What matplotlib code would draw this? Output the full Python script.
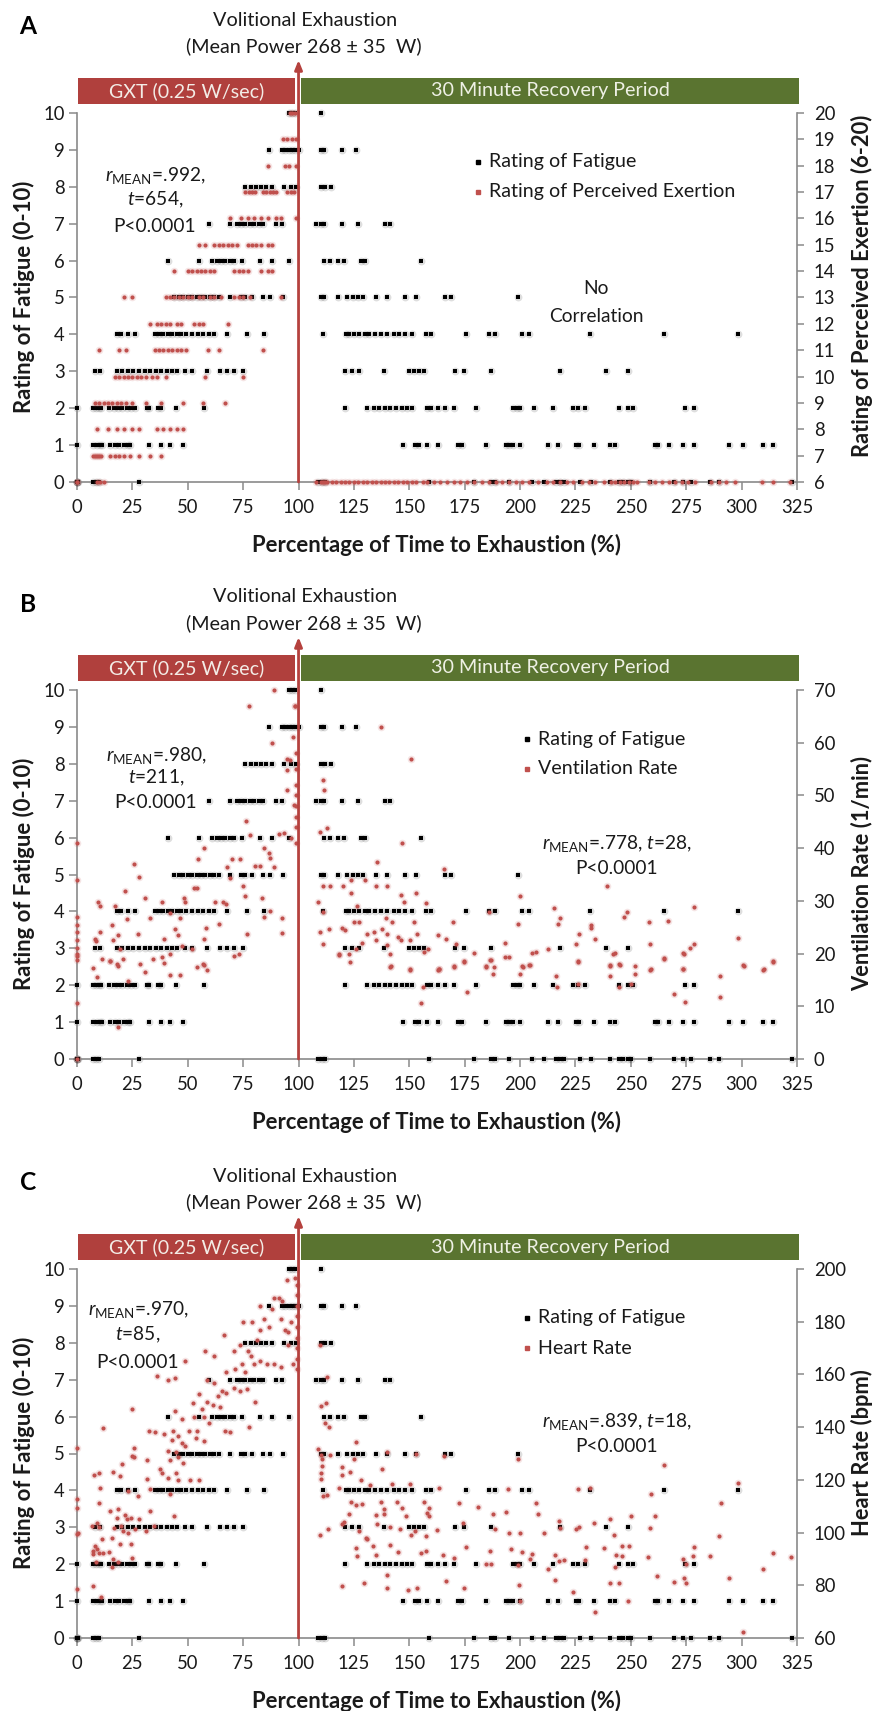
import matplotlib
matplotlib.use("Agg")
import matplotlib.pyplot as plt
from matplotlib.patches import Rectangle
from matplotlib.lines import Line2D

plt.rcParams['font.family'] = ['Lato', 'DejaVu Sans']
plt.rcParams['mathtext.fontset'] = 'custom'
plt.rcParams['mathtext.rm'] = 'Lato'
plt.rcParams['mathtext.it'] = 'Lato:italic'
plt.rcParams['mathtext.bf'] = 'Lato:bold'

# ---------------- data ----------------
x_ticks = list(range(0, 326, 25))
fatigue_ticks = list(range(0, 11))

# Rating of fatigue (0-10): x = % time to exhaustion for each rating level
fat_0 = [0, 0, 0, 0.5, 7, 8.5, 10, 28, 109, 110.5, 112, 159, 179, 187, 188.5, 195, 205.5, 211, 216, 218,
         219.7, 227, 232, 240.7, 244.5, 246.4, 248.7, 250.2, 258.5, 269.4, 273.6, 277, 285.7, 290, 322.6]
fat_1 = [0, 7.4, 9, 10.5, 11.2, 14.9, 17, 19, 21, 23, 24, 32.7, 37.9, 42.1, 47.8, 147, 152.6, 154.5, 158,
         162.8, 172, 174, 184.6, 193.6, 195.1, 196.6, 199.9, 212.5, 217, 225.3, 226.8, 233.3, 240.7, 242.7,
         261.1, 262.3, 267.1, 273.6, 278.6, 294.4, 300.4, 309.7, 314.3]
fat_2 = [0, 7, 8.5, 10, 11, 14.6, 16.5, 18.5, 20.5, 22.5, 24.5, 26, 31.8, 32.7, 36.5, 38, 44.8, 57.2, 121,
         131, 134, 136.5, 139, 141.5, 144, 146.5, 149, 151, 158, 160, 163, 166, 170, 180, 197, 198.5, 200,
         206.5, 215, 224, 226, 229.5, 244.5, 248.5, 251, 274.5, 278.5]
fat_3 = [8, 10.4, 18, 20.5, 23, 25.5, 28, 30.5, 33, 35.5, 38, 40.5, 43, 45, 48.9, 51.9, 58.7, 64.4, 67.7,
         70.7, 74.9, 121, 124, 127.5, 138.5, 150, 152, 154.5, 156.6, 170.8, 174.6, 186.7, 218.1, 239, 248.7]
fat_4 = [18, 20, 23, 26, 35, 37, 39, 41, 43, 45, 47, 49, 52, 54.5, 57, 59.5, 62, 67.7, 76.7, 84.3, 111,
         121.5, 123, 125, 127.5, 130, 132, 134.5, 137, 140, 143, 145.5, 148, 151, 157.5, 160, 175.5, 186,
         188.5, 201, 204, 231.7, 264.9, 298.5]
fat_5 = [44, 46, 48, 50, 52, 54, 56, 58, 60, 62, 64, 69, 74, 76, 79, 84, 87, 93, 110, 111.5, 118, 122,
         124.5, 127, 129, 135, 140, 148, 153, 166, 169, 199]
fat_6 = [41.3, 54.9, 61, 63, 65, 67, 69, 71, 74.5, 82.8, 88, 95.6, 111.5, 114, 118, 120.5, 128, 130, 155.5]
fat_7 = [59.4, 69.2, 72, 74, 76, 78, 80, 82, 84, 90, 92.6, 108, 110, 111.5, 119.5, 127, 139, 141.5]
fat_8 = [76, 78.5, 81, 83, 85.5, 88, 93.4, 96.4, 99, 110, 112, 114.5]
fat_9 = [86.6, 92.6, 94, 95.5, 97, 98.5, 100, 110, 111.5, 119.7, 126]
fat_10 = [95.6, 97, 98.6, 110]

# Rating of perceived exertion (6-20): x for each RPE level
rpe_6 = [0, 0, 9, 10.5, 12, 108, 110, 111, 112, 113, 115, 117, 119, 121, 123, 125, 127, 129, 131, 133, 135,
         137, 139, 141, 143, 145, 147, 149, 151, 153, 156, 158, 161, 164, 167, 170, 173, 176, 179, 183, 186,
         189, 192, 195, 198, 201, 204, 208, 212, 215, 218, 221, 224, 228, 231, 234, 238, 241, 243, 245, 247,
         249, 251, 253, 258, 261, 264, 267, 270, 273, 276, 279, 286, 290, 293, 297, 309, 314, 322]
rpe_7 = [7, 8, 9, 10, 11, 15, 17, 19, 21, 24, 28, 33, 38]
rpe_8 = [9, 14, 18, 21, 25, 28, 36, 39, 42, 45, 48]
rpe_9 = [8, 10, 12, 14, 16, 18, 20, 22, 25, 31, 38, 48, 57, 67]
rpe_10 = [17, 19, 21, 23, 25, 27, 29, 31, 34, 36, 40, 58, 75]
rpe_11 = [10, 19, 22, 35, 37, 39, 41, 43, 45, 47, 49, 59, 64, 84]
rpe_12 = [33, 36, 38, 40, 42, 45, 47, 53, 55, 57, 68]
rpe_13 = [21, 25, 40, 42, 44, 46, 48, 50, 52, 55, 57, 60, 62, 65, 71, 73, 75, 78, 92]
rpe_14 = [44, 50, 52, 54, 56, 58, 60, 62, 71, 73, 75, 77, 83, 86, 88]
rpe_15 = [55, 58, 62, 64, 66, 68, 70, 72, 77, 79, 81, 83, 86, 88]
rpe_16 = [69, 74, 77, 80, 83, 86, 90, 92, 99]
rpe_17 = [76, 77.5, 79, 80.5, 84, 85.5, 87, 88.5, 90, 95, 96.5, 98]
rpe_18 = [86, 94, 95.5, 99]
rpe_19 = [93, 95, 97, 99]
rpe_20 = [96, 97, 98.5]

# Ventilation rate (1/min)
ve_x = [88.8, 98.6, 77.5, 87.8, 97.7, 94.7, 96, 94.9, 94.7, 99, 99, 99, 99, 99, 99, 99, 99, 97.9, 76.3, 0,
        57.2, 54.6, 70, 73.7, 78, 84.3, 86.6, 91.1, 93.4, 96.4, 87.3, 82.8, 88.8, 67.7, 80.5, 25.8, 28.1, 0,
        52.6, 54, 69.2, 74.9, 75.9, 83.3, 48.1, 21.7, 30.8, 62.4, 65.9, 67.4, 9.7, 10.4, 17.2, 38.3, 48.9,
        0, 0, 0, 0, 0, 0, 33, 42, 22.5, 46.6, 64.3, 87.3, 84.3, 92.6, 16, 44.4, 45.4, 58.2, 76.6, 92.6,
        10.4, 8.1, 8.6, 16.1, 18.7, 27.5, 39.1, 57.2, 19.5, 11.2, 15, 20.7, 28.5, 34.5, 38.3, 42.1, 54,
        57.2, 70.7, 73.3, 7.4, 18.7, 30.8, 39.1, 51.9, 47.4, 8.9, 14.9, 17.9, 23.2, 41.8, 46.6, 56.9, 58.7,
        0, 18.3, 0, 0, 0,
        150.7, 111.2, 111.5, 109.6, 113, 146.9, 135.3, 165.7, 111.2, 114.2, 120, 123.6, 129.9, 134.8,
        140.1, 239.4, 123.6, 146.1, 152.9, 199.8, 108.6, 147.6, 157.6, 111.2, 126.5, 142.2, 139.4, 125.1,
        127.5, 152, 169.6, 186, 215.2, 218.2, 217, 198.9, 248.4, 247, 258.2, 266.8, 278.6, 231.8, 231.8,
        298.5, 109.6, 113.6, 119.6, 121, 130.9, 133.9, 137.5, 140.1, 144.9, 146.1, 153.3, 163.1, 166.5,
        111.2, 128.5, 134.8, 140.1, 150.3, 171.3, 193.3, 226.8, 233.6, 225.3, 258.5, 278.6, 276.7, 118.1,
        122.9, 126.1, 141.5, 156.6, 158.4, 186.7, 194.9, 207.4, 212.7, 242.1, 274.1, 123.1, 141.5, 150.3,
        163.2, 170.1, 174.6, 184.4, 188.4, 201.2, 204.6, 226.3, 240.4, 244.9, 251.7, 258.9, 264.9, 273.5,
        301.1, 310, 314.3, 118.3, 141.6, 150.4, 156, 155.2, 163.2, 179, 174.8, 170.3, 163, 184.6, 186.6,
        187.8, 175.9, 193.4, 200, 200.9, 204.2, 205.4, 216, 216.7, 226.1, 226.1, 240.7, 240.7, 242.7,
        244.5, 244.5, 249.9, 251.7, 258.5, 264.8, 269.4, 273.6, 273.6, 274.6, 290.2, 290.2, 300.4, 309.7,
        314.3, 137, 98.3]
ve_val = [70, 67, 67, 60, 61, 57, 56.8, 54.9, 51, 58, 55, 52, 50, 48, 46, 44, 41, 48.2, 45.1, 41,
          40, 38, 38, 38, 42.4, 40, 39, 42.6, 42.9, 42, 38.2, 36.6, 36.4, 36.4, 36.6, 36.9, 34.6, 34,
          32.5, 32.5, 34.3, 32.8, 31, 30.6, 30.6, 31.8, 30.6, 29.8, 29.8, 29.4, 29.8, 29.1, 29.1, 29.7, 29.8,
          27, 25.5, 24, 22.5, 21, 19.5, 26.8, 27.7, 26.5, 26.8, 25.6, 28, 27, 26.8, 25.4, 24.7, 23.5, 24.9,
          23.7, 23.9, 24.1, 22.8, 22.4, 22.5, 23.5, 23.7, 22.7, 22.7, 20.8, 19, 18.6, 19, 18, 18.9, 19.4,
          20, 17.5, 17.9, 19.5, 20, 17.2, 17.7, 16.5, 18.3, 20.8, 21.4, 15.5, 18.5, 18.1, 14.8, 15.9, 15.9,
          18, 16.9, 10.7, 6, 0, 18.8, 20,
          56.9, 53, 51, 43, 43.8, 40.9, 37.3, 36, 32.9, 32.8, 32.9, 34, 34, 32.9, 32.9, 32.9, 31.5, 31.2,
          31.4, 30.9, 29.8, 29.8, 29.6, 27.8, 29.1, 26, 26.8, 26, 26, 25.9, 25.9, 27.8, 28.7, 26.8, 25.6,
          25.6, 27.8, 27, 25.9, 26.2, 28.9, 25.4, 24.8, 22.9, 24, 24.7, 24.9, 24.5, 23.7, 24, 24.7, 23.7,
          23.2, 22.5, 23.8, 23.6, 22.8, 21.8, 22, 22.5, 21.7, 22.5, 21.8, 22, 23.7, 22.8, 21.8, 21.8, 21.8,
          21, 20, 20, 20.8, 20, 20.3, 20.8, 18.7, 19.4, 20.3, 20.8, 19.9, 20, 18.4, 17.5, 17.1, 17, 17.5,
          18.4, 17.5, 17.5, 17.5, 17.9, 18.4, 17.6, 17.9, 17.6, 17, 18.9, 17, 17.6, 17, 18.4, 19.7, 17.6,
          16.9, 13.7, 10.6, 17, 20.2, 18.6, 17.7, 16.9, 17.7, 18.8, 16.1, 12.8, 19.4, 16.1, 17.7, 17.8,
          20.2, 15.8, 13.6, 18.5, 14.2, 17.8, 15.8, 20.1, 18, 13.7, 14.2, 16.1, 16.9, 19.2, 12.4, 17, 20.1,
          10.9, 15.8, 11.8, 17.8, 16.9, 18.5, 63, 67]

# Heart rate (bpm)
hr_x = [98.6, 94.6, 99.5, 99.5, 99.5, 99.5, 99.5, 99.5, 99.5, 99.5, 99.5, 88.8, 91.1, 92.5, 82.8, 87.8,
        91.9, 96.4, 84.3, 75, 79, 82.5, 86.6, 94, 95.3, 66.2, 81.3, 73.8, 77.2, 95.3, 70.7, 78.4, 57.9,
        61.7, 48.9, 74.5, 80.1, 82.8, 85.8, 88.8, 91.9, 97.6, 71.5, 67.4, 75.9, 36, 41.3, 44.3, 58.7, 61.7,
        65.5, 67.4, 70.7, 73.8, 76.6, 63.5, 54.9, 52.3, 58.7, 61.4, 64.4, 80.5, 56.4, 24.7, 44.3, 47.4,
        52.6, 57.5, 59.4, 77.8, 11.6, 32.3, 35.3, 39.1, 43.3, 45.8, 50.4, 54.1, 53.8, 57.5, 67, 69.2, 43.1,
        47.4, 48.9, 25.8, 41.3, 44.7, 45.8, 0, 24.7, 25.8, 31.5, 42, 47.8, 20.2, 37.6, 38.3, 16.4, 19.2,
        7.8, 10.1, 31.5, 40.9, 44.7, 45.5, 51.1, 54.9, 10.4, 23.2, 27.7, 33, 42.1, 9.9, 14.9, 18.7, 21.7,
        18, 22.5, 24.3, 27.8, 33, 44, 6.9, 8.9, 10.1, 0, 16.9, 19.9, 20.9, 22.9, 26.2, 31.2, 34.8, 0, 0.5,
        11.2, 15.7, 24.3, 19.5, 8.1, 8.9, 7.4, 7.4, 10.1, 11.6, 14.6, 16.4, 8.6, 18.3, 24.7, 15.7, 7.4, 0,
        10.7, 0,
        109.6, 112.7, 110, 112.2, 111.9, 113.7, 108.7, 110, 110.5, 110.5, 110, 110.2, 111.2, 113, 114.2,
        125.8, 125, 119.8, 123.2, 119.4, 128.1, 132.1, 118.3, 137.8, 139.8, 152.9, 165.7, 142.1, 150.3,
        163.6, 194.4, 198.9, 226.3, 231.7, 264.9, 298.5, 259, 123.5, 125.8, 128.8, 137.4, 138.6, 144.3,
        146.9, 156.6, 158.9, 158.2, 172.6, 180.9, 207.3, 290.9, 122.9, 135, 138.5, 148.4, 158.9, 187.8,
        193.6, 207.9, 217.7, 240.7, 249.9, 261, 109.9, 113.2, 119.8, 120.5, 127.2, 130.3, 135.2, 141.5,
        145.8, 150.9, 152.5, 157.4, 162.3, 174.2, 188.6, 195.1, 200, 210.8, 218.1, 225.2, 226.8, 233.2,
        242.3, 258.6, 289.9, 125.8, 130.8, 133.7, 141.5, 145, 155.5, 157.4, 165.1, 170.1, 175.6, 186.2,
        196.1, 200.8, 205.2, 204.6, 215.6, 217.4, 219.8, 229.8, 238.1, 243.1, 245.8, 246, 249, 257.9,
        273.6, 278.6, 278.2, 285.6, 314.3, 322.2, 134.8, 126.5, 184.8, 187, 199.1, 229.4, 242.7, 275,
        212.5, 119.8, 129.6, 139.9, 139.9, 149.5, 153.4, 166.5, 174.9, 199.4, 215.8, 224.1, 240.4, 244.5,
        262, 269.4, 273.9, 274.8, 294.4, 309.8, 200.1, 248.7, 233.6, 300.8]
hr_val = [196.5, 196, 194, 190, 186, 182, 178, 174, 170, 166, 162, 189, 189, 188, 186, 185,
          181, 180, 181, 180, 180, 177, 178, 177, 176, 175, 173, 171, 169, 171, 169, 167, 169,
          167, 165, 164, 164, 165, 164, 164, 163, 164, 162, 161, 161, 159.5, 158, 158.5, 158, 156.7,
          153.6, 153, 155, 153.6, 154.5, 152, 152.6, 149, 149.5, 148.5, 147.5, 149.7, 146.7, 146.9, 146, 143,
          144, 144, 141.6, 140, 139.6, 138.5, 138, 137.5, 138.5, 136.5, 138.6, 138.5, 136, 134.6, 138.5, 138, 135,
          134, 132.8, 132, 131, 130.5, 128.5, 132, 129, 128.7, 127.5, 127.5, 126.5, 126, 124, 122.7, 123, 121.4,
          122, 122.6, 120.4, 120.7, 122.5, 120, 120, 120, 117, 115.8, 113.9, 116.5, 114.5, 111.3, 108, 109, 106.7,
          105.7, 105.2, 105.7, 105.2, 108, 106.3, 102.5, 103.7, 102.3, 109.4, 101.9, 102.5, 100.6, 100, 101.2, 100.6, 102.5, 99.4, 100,
          97.5, 98, 95.6, 95.6, 95, 93.7, 93, 92, 92.2, 92.2, 92.7, 90, 89, 89, 90.3, 87, 79.8, 78.5,
          75.4, 112.6,
          171, 159, 148, 149, 141.6, 140, 131.8, 129.6, 127.8, 125.2, 122.7, 120.2, 114, 114.3, 129.3,
          134.3, 128, 124.8, 123, 122, 119.9, 118, 117, 124, 130.7, 129.9, 129, 118.3, 118.5,
          117, 116.7, 128, 116.7, 117, 125.6, 118.9, 114.7, 111.6, 110.6, 111, 111.6, 109, 111.7,
          109.5, 111.6, 109.2, 107.5, 111.2, 109.8, 111.4, 111.3, 106.9, 106.6, 107.2, 106.3, 106.3, 106.9,
          107.7, 106.9, 104.4, 105.3, 106.3, 106.3, 99, 101.2, 103.1, 104, 100.6, 98.1, 103.1, 102.3,
          101.3, 98.9, 100.7, 98.6, 101, 103.8, 101.3, 100, 100, 99.8, 101.8, 101.2, 102.3, 103.5,
          98.9, 101.6, 98.6, 94.3, 97.5, 95, 95.4, 92.7, 92.4, 93, 91.4, 90.2, 94.5, 92.9,
          93.7, 92.5, 91.9, 89.8, 91.6, 89.1, 89.5, 94.5, 94.1, 91.6, 91, 95, 95, 90.6,
          89.8, 94.5, 91, 91.2, 92.4, 90.8, 91.4, 91.2, 88, 88, 87.6, 89.6, 87.1, 88,
          86, 79.6, 81, 84, 79, 78.1, 79, 81.7, 79, 80.2, 82, 77.4, 81, 81,
          83.4, 81.3, 82.8, 81, 82.6, 86, 74.1, 74.1, 70, 62.1]

ve_ticks = list(range(0, 71, 10))
hr_ticks = list(range(60, 201, 20))
rpe_ticks = list(range(6, 21))

# --------------- build series ----------------
fat_levels = [fat_0, fat_1, fat_2, fat_3, fat_4, fat_5, fat_6, fat_7, fat_8, fat_9, fat_10]
fat_x, fat_y = [], []
for lvl, xs in enumerate(fat_levels):
    fat_x += xs
    fat_y += [lvl] * len(xs)

rpe_levels = [rpe_6, rpe_7, rpe_8, rpe_9, rpe_10, rpe_11, rpe_12, rpe_13, rpe_14, rpe_15, rpe_16,
              rpe_17, rpe_18, rpe_19, rpe_20]
rpe_x, rpe_y = [], []
for i, xs in enumerate(rpe_levels):
    rpe_x += xs
    rpe_y += [6 + i] * len(xs)

# --------------- figure ----------------
W, H = 887, 1711
fig = plt.figure(figsize=(W / 100, H / 100), dpi=100)
renderer = fig.canvas.get_renderer()


def FX(px):
    return px / W


def FY(py):
    return 1 - py / H


def fit(s, target, weight='normal', base=13.0):
    """font size giving a rendered width of `target` pixels"""
    t = fig.text(0, 0, s, fontsize=base, weight=weight)
    w = t.get_window_extent(renderer).width
    t.remove()
    return base * target / w


FS_TICK = fit('100', 32)
FS_XLAB = fit('Percentage of Time to Exhaustion (%)', 368, 'bold')
FS_YLAB = fit('Rating of Fatigue (0-10)', 232, 'bold')
FS_RLAB = fit('Rating of Perceived Exertion (6-20)', 342, 'bold')
FS_VOL = fit('Volitional Exhaustion', 184)
FS_MEAN = fit('(Mean Power 268 \u00b1 35  W)', 235)
FS_GXT = fit('GXT (0.25 W/sec)', 155)
FS_REC = fit('30 Minute Recovery Period', 238)
FS_LEG = fit('Rating of Fatigue', 147)
FS_ANN = fit('P<0.0001', 82)
FS_LET = fit('A', 17, 'bold')

RED_BAR = '#b0403d'
GREEN_BAR = '#5a7430'
DOT_RED = '#c0504d'
AX_GRAY = '#8a8a8a'
TXT = '#1a1a1a'

panels = [
    dict(letter='A', dy=0, sec_x=rpe_x, sec_y=rpe_y, sec_lim=(6, 20), sec_ticks=rpe_ticks,
         sec_label='Rating of Perceived Exertion (6-20)', sec_name='Rating of Perceived Exertion',
         left_ann=[r'$\mathit{r}_{\mathrm{MEAN}}$=.992,', r'$\mathit{t}$=654,', 'P<0.0001'],
         left_pos=(155, [175, 200, 226]),
         right_ann=['No', 'Correlation'], right_pos=(596, [289, 316]), leg_x=478, rlab_y=286),
    dict(letter='B', dy=577, sec_x=ve_x, sec_y=ve_val, sec_lim=(0, 70), sec_ticks=ve_ticks,
         sec_label='Ventilation Rate (1/min)', sec_name='Ventilation Rate',
         left_ann=[r'$\mathit{r}_{\mathrm{MEAN}}$=.980,', r'$\mathit{t}$=211,', 'P<0.0001'],
         left_pos=(156, [178, 201, 225]),
         right_ann=[r'$\mathit{r}_{\mathrm{MEAN}}$=.778, $\mathit{t}$=28,', 'P<0.0001'],
         right_pos=(617, [266, 291]), leg_x=527, rlab_y=297),
    dict(letter='C', dy=1156, sec_x=hr_x, sec_y=hr_val, sec_lim=(60, 200), sec_ticks=hr_ticks,
         sec_label='Heart Rate (bpm)', sec_name='Heart Rate',
         left_ann=[r'$\mathit{r}_{\mathrm{MEAN}}$=.970,', r'$\mathit{t}$=85,', 'P<0.0001'],
         left_pos=(138, [154, 179, 206]),
         right_ann=[r'$\mathit{r}_{\mathrm{MEAN}}$=.839, $\mathit{t}$=18,', 'P<0.0001'],
         right_pos=(617, [265, 291]), leg_x=527, rlab_y=297),
]

TOP, BOT, LEFT, RIGHT = 113, 482, 77, 797
AXH = BOT - TOP

for p in panels:
    dy = p['dy']
    ax = fig.add_axes([FX(LEFT), FY(BOT + dy), FX(RIGHT) - FX(LEFT), AXH / H])
    ax.set_xlim(0, 325)
    ax.set_ylim(0, 10)
    ax.set_xticks(x_ticks)
    ax.set_yticks(fatigue_ticks)
    for s in ['top', 'right']:
        ax.spines[s].set_visible(False)
    for s in ['left', 'bottom']:
        ax.spines[s].set_color(AX_GRAY)
        ax.spines[s].set_linewidth(1.2)
    ax.tick_params(axis='both', colors=AX_GRAY, labelcolor=TXT, labelsize=FS_TICK, length=6, width=1.1)
    ax.tick_params(axis='x', pad=6)
    ax.tick_params(axis='y', pad=3)
    ax.patch.set_visible(False)

    # fatigue points (halo + core)
    ax.scatter(fat_x, fat_y, s=32, color='black', alpha=0.13, linewidths=0, clip_on=False, zorder=2)
    ax.scatter(fat_x, fat_y, s=8, color='black', marker='s', linewidths=0, clip_on=False, zorder=3)

    ax2 = ax.twinx()
    ax2.set_ylim(*p['sec_lim'])
    ax2.set_yticks(p['sec_ticks'])
    for s in ['top', 'left', 'bottom']:
        ax2.spines[s].set_visible(False)
    ax2.spines['right'].set_color(AX_GRAY)
    ax2.spines['right'].set_linewidth(1.2)
    ax2.tick_params(axis='y', colors=AX_GRAY, labelcolor=TXT, labelsize=FS_TICK, length=5, width=1.1,
                    pad=7)

    ax2.scatter(p['sec_x'], p['sec_y'], s=30, color=DOT_RED, alpha=0.15, linewidths=0, clip_on=False,
                zorder=2)
    ax2.scatter(p['sec_x'], p['sec_y'], s=9, color=DOT_RED, linewidths=0, clip_on=False, zorder=3)

    # header bars
    tr = ax2.get_xaxis_transform()
    y0 = 1 + 9 / AXH
    hh = 26 / AXH
    ax2.add_patch(Rectangle((0.45, y0), 98.4 - 0.45, hh, transform=tr, facecolor=RED_BAR,
                            edgecolor='none', clip_on=False, zorder=5))
    ax2.add_patch(Rectangle((101.1, y0), 326 - 101.1, hh, transform=tr, facecolor=GREEN_BAR,
                            edgecolor='none', clip_on=False, zorder=5))
    ax2.text(49.4, y0 + hh / 2, 'GXT (0.25 W/sec)', transform=tr, ha='center', va='center',
             color='#f3ece6', fontsize=FS_GXT, zorder=6, clip_on=False)
    ax2.text(213.5, y0 + hh / 2, '30 Minute Recovery Period', transform=tr, ha='center',
             va='center', color='#eef0e4', fontsize=FS_REC, zorder=6, clip_on=False)

    # arrow at volitional exhaustion
    ax2.annotate('', xy=(100, 1 + 53 / AXH), xycoords=tr, xytext=(100, 0), textcoords=tr,
                 arrowprops=dict(arrowstyle='-|>,head_length=0.55,head_width=0.22', color='#b5413e',
                                 lw=2, shrinkA=0, shrinkB=0),
                 annotation_clip=False, zorder=7)

    # texts
    fig.text(FX(28), FY(27 + dy), p['letter'], ha='center', va='center', fontsize=FS_LET, weight='bold')
    fig.text(FX(305), FY(20 + dy), 'Volitional Exhaustion', ha='center', va='center', fontsize=FS_VOL,
             color=TXT)
    fig.text(FX(304), FY(46 + dy), '(Mean Power 268 \u00b1 35  W)', ha='center', va='center',
             fontsize=FS_MEAN, color=TXT)
    lx, lys = p['left_pos']
    for s, yy in zip(p['left_ann'], lys):
        fig.text(FX(lx), FY(yy + dy), s, ha='center', va='center', fontsize=FS_ANN, color=TXT)
    rx, rys = p['right_pos']
    for s, yy in zip(p['right_ann'], rys):
        fig.text(FX(rx), FY(yy + dy), s, ha='center', va='center', fontsize=FS_ANN, color=TXT)

    # legend
    lgx = p['leg_x']
    for k, (name, col) in enumerate([('Rating of Fatigue', 'black'), (p['sec_name'], DOT_RED)]):
        yy = 162 + 30 * k + dy
        fig.add_artist(Line2D([FX(lgx)], [FY(yy)], marker='s', ms=2.3, color=col, lw=0,
                              transform=fig.transFigure))
        fig.text(FX(lgx + 11), FY(yy), name, ha='left', va='center', fontsize=FS_LEG, color=TXT)

    # axis labels
    fig.text(FX(24), FY(297 + dy), 'Rating of Fatigue (0-10)', rotation=90, ha='center', va='center',
             fontsize=FS_YLAB, weight='bold', color=TXT)
    fig.text(FX(862), FY(p['rlab_y'] + dy), p['sec_label'], rotation=90, ha='center', va='center',
             fontsize=FS_RLAB, weight='bold', color=TXT)
    fig.text(FX(437), FY(545 + dy), 'Percentage of Time to Exhaustion (%)', ha='center', va='center',
             fontsize=FS_XLAB, weight='bold', color=TXT)

fig.savefig('out.png', dpi=100, facecolor='white')
